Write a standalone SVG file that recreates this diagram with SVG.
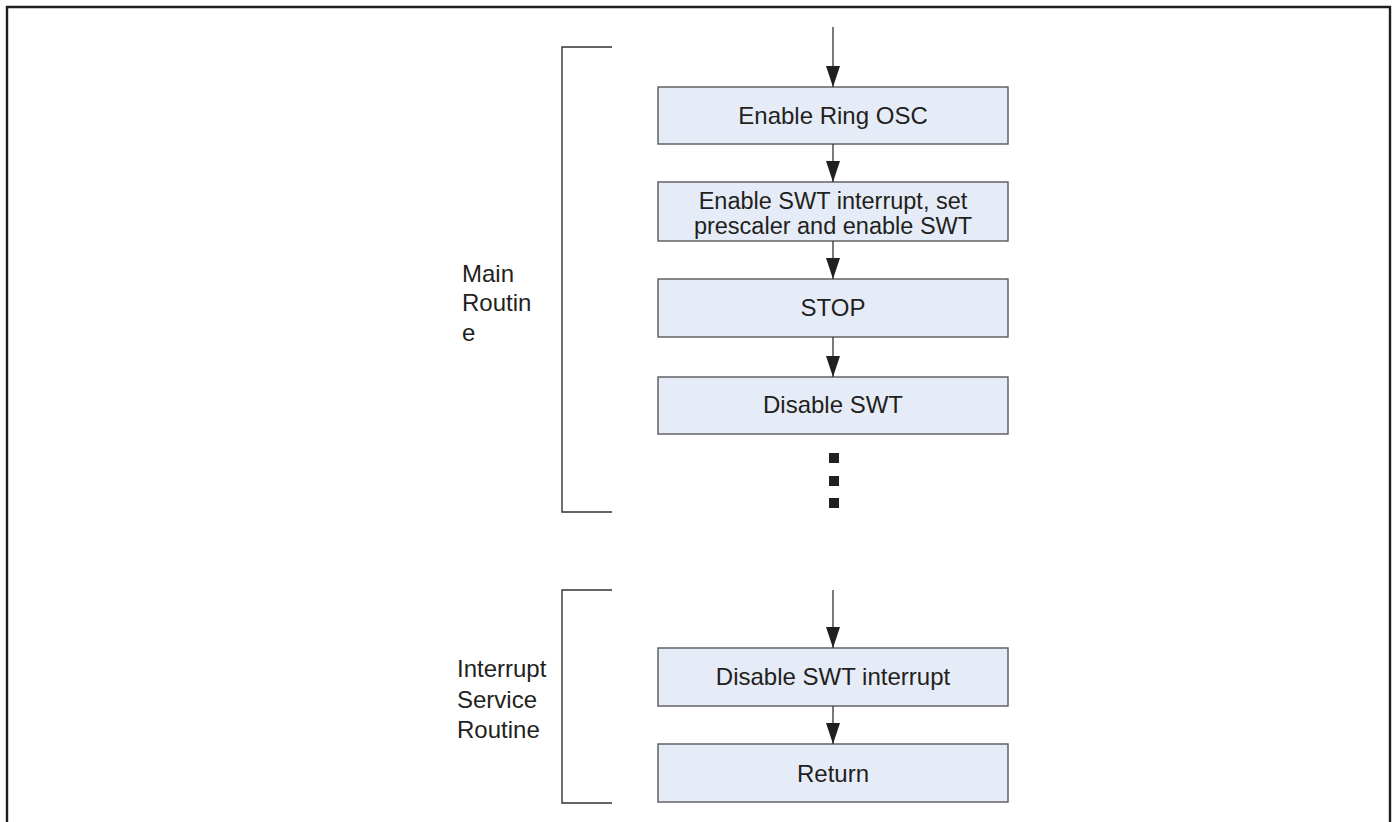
<svg xmlns="http://www.w3.org/2000/svg" width="1393" height="822" viewBox="0 0 1393 822">
<style>
.box{fill:#e6ecf7;stroke:#58595b;stroke-width:1.4}
.t{font-family:"Liberation Sans",Arial,sans-serif;font-size:24px;fill:#231f20}
.s{font-size:23.5px}
.c{text-anchor:middle}
.br{fill:none;stroke:#333;stroke-width:1.4}
.ln{fill:none;stroke:#333;stroke-width:1.3}
</style>
<defs>
<marker id="ah" markerUnits="userSpaceOnUse" markerWidth="21" markerHeight="14" refX="21" refY="7" orient="auto">
<path d="M0,0 L21,7 L0,14 z" fill="#231f20"/>
</marker>
</defs>
<rect width="1393" height="822" fill="#fff"/>
<path d="M7,822 V7 H1390 V822" fill="none" stroke="#231f20" stroke-width="2.4"/>

<g id="main-bracket">
<path class="br" d="M612,47 H562 V512 H612"/>
<text class="t" x="462" y="282">Main</text>
<text class="t" x="462" y="311">Routin</text>
<text class="t" x="462" y="341">e</text>
</g>
<g id="isr-bracket">
<path class="br" d="M612,590 H562 V803 H612"/>
<text class="t" x="457" y="677">Interrupt</text>
<text class="t" x="457" y="708">Service</text>
<text class="t" x="457" y="738">Routine</text>
</g>

<g id="n1"><rect class="box" x="658" y="87" width="350" height="57"/><text class="t c" x="833" y="124">Enable Ring OSC</text></g>
<g id="n2"><rect class="box" x="658" y="182" width="350" height="59"/><text class="t s c" x="833" y="209">Enable SWT interrupt, set</text><text class="t s c" x="833" y="234">prescaler and enable SWT</text></g>
<g id="n3"><rect class="box" x="658" y="279" width="350" height="58"/><text class="t c" x="833" y="316">STOP</text></g>
<g id="n4"><rect class="box" x="658" y="377" width="350" height="57"/><text class="t c" x="833" y="413">Disable SWT</text></g>
<g id="dots" fill="#231f20"><rect x="829" y="453" width="10" height="10"/><rect x="829" y="476" width="10" height="10"/><rect x="829" y="498" width="10" height="10"/></g>
<g id="n5"><rect class="box" x="658" y="648" width="350" height="58"/><text class="t c" x="833" y="685">Disable SWT interrupt</text></g>
<g id="n6"><rect class="box" x="658" y="744" width="350" height="58"/><text class="t c" x="833" y="782">Return</text></g>

<g id="connectors">
<line class="ln" x1="833" y1="27" x2="833" y2="87" marker-end="url(#ah)"/>
<line class="ln" x1="833" y1="144" x2="833" y2="182" marker-end="url(#ah)"/>
<line class="ln" x1="833" y1="241" x2="833" y2="279" marker-end="url(#ah)"/>
<line class="ln" x1="833" y1="337" x2="833" y2="377" marker-end="url(#ah)"/>
<line class="ln" x1="833" y1="590" x2="833" y2="648" marker-end="url(#ah)"/>
<line class="ln" x1="833" y1="706" x2="833" y2="744" marker-end="url(#ah)"/>
</g>
</svg>
